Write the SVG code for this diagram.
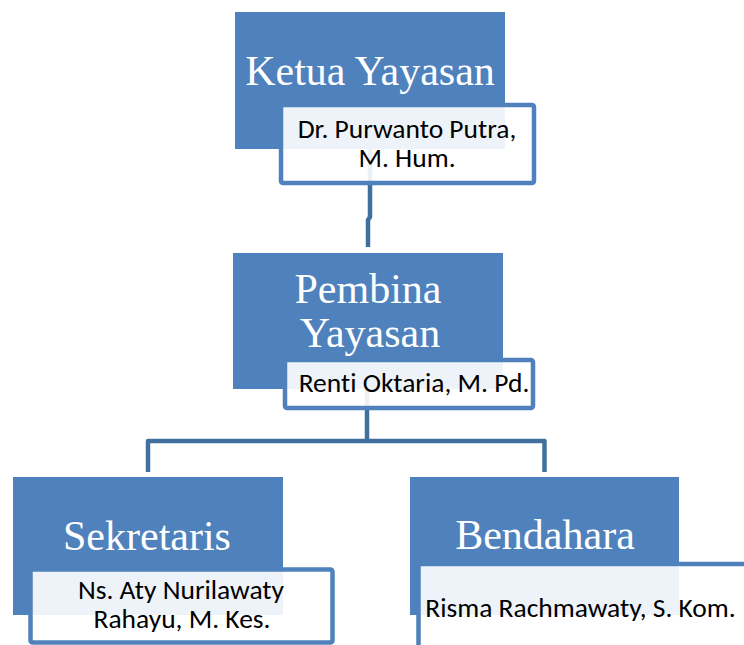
<svg xmlns="http://www.w3.org/2000/svg" width="744" height="645" viewBox="0 0 744 645">
<style>
.blue{fill:#4F81BD}
.tb{fill:#FFFFFF;fill-opacity:0.9;stroke:#4F81BD;stroke-width:4.5}
.conn{fill:none;stroke:#41709F;stroke-width:4.5;stroke-linejoin:round}
.title{font-family:"Liberation Serif","Times New Roman",serif;font-size:42px;fill:#FFFFFF;text-anchor:middle}
.sub{font-family:Carlito,Calibri,Lato,sans-serif;font-size:27.5px;fill:#000000;text-anchor:middle;font-variant-ligatures:none}
</style>
<rect width="744" height="645" fill="#FFFFFF"/>
<g id="connectors">
<path class="conn" d="M370,149 V217 L368,220 V247"/>
<path class="conn" d="M367,389 V441"/>
<path class="conn" d="M148,472 V441 H544.5 V472"/>
</g>
<g id="ketua">
<rect class="blue" x="235" y="12" width="270" height="137"/>
<text class="title" x="370" y="85">Ketua Yayasan</text>
<rect class="tb" x="281" y="105" width="253" height="78" rx="2"/>
<text class="sub" x="407" y="138">Dr. Purwanto Putra,</text>
<text class="sub" x="407" y="167">M. Hum.</text>
</g>
<g id="pembina">
<rect class="blue" x="233" y="253" width="270" height="136"/>
<text class="title" x="368" y="303">Pembina</text>
<text class="title" x="370" y="347">Yayasan</text>
<rect class="tb" x="285" y="360" width="248" height="48" rx="2"/>
<text class="sub" x="414" y="392">Renti Oktaria, M. Pd.</text>
</g>
<g id="sekretaris">
<rect class="blue" x="13" y="477" width="270" height="138"/>
<text class="title" x="147" y="550">Sekretaris</text>
<rect class="tb" x="30.5" y="569.5" width="302" height="73" rx="2"/>
<text class="sub" x="181" y="599">Ns. Aty Nurilawaty</text>
<text class="sub" x="182" y="628">Rahayu, M. Kes.</text>
</g>
<g id="bendahara">
<rect class="blue" x="410" y="477" width="269" height="138"/>
<text class="title" x="545" y="549">Bendahara</text>
<rect class="tb" x="418.5" y="564" width="340" height="100" rx="2"/>
<text class="sub" x="580.5" y="617">Risma Rachmawaty, S. Kom.</text>
</g>
</svg>
